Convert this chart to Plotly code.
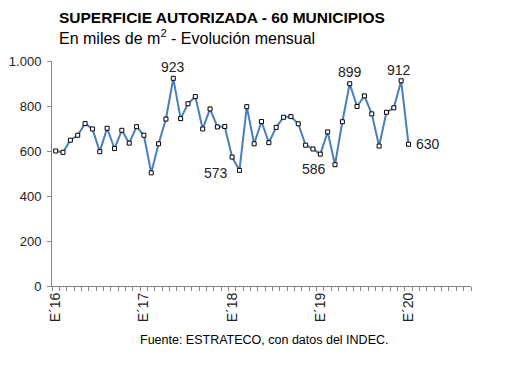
import plotly.graph_objects as go

# Monthly data: Jan 2016 .. Jan 2020 (thousand m2), axis extends to Sep 2020
months = [f"{m}/{y}" for y in range(2016, 2021) for m in range(1, 13)][:57]
values = [600, 594, 648, 670, 722, 698, 597, 701, 611, 692, 635, 708,
          670, 503, 632, 742, 923, 744, 810, 842, 698, 787, 707, 709,
          573, 514, 797, 632, 731, 637, 705, 750, 753, 721, 626, 609,
          586, 685, 539, 730, 899, 798, 845, 765, 622, 772, 792, 912,
          630]
tick_idx = [0, 12, 24, 36, 48]
tick_text = ["E´16", "E´17", "E´18", "E´19", "E´20"]
y_ticks = [0, 200, 400, 600, 800, 1000]
y_text = ["0", "200", "400", "600", "800", "1.000"]
# labelled points: (index, text, xshift, yshift, xanchor)
labels = [(16, "923", 0, 11, "center"),
          (24, "573", -16, -16, "center"),
          (36, "586", -6, -15, "center"),
          (40, "899", 0, 12, "center"),
          (47, "912", -2, 11, "center"),
          (48, "630", 5, 0, "left")]

x_idx = list(range(len(values)))
FONT = "Liberation Sans, Arial"

fig = go.Figure()
fig.add_trace(go.Scatter(
    x=x_idx, y=values, mode="lines+markers",
    line=dict(color="#4A7EBB", width=2),
    marker=dict(symbol="square", size=4, color="white",
                line=dict(color="black", width=1)),
    hoverinfo="skip"))

for i, t, dx, dy, xa in labels:
    fig.add_annotation(x=x_idx[i], y=values[i], text=t, showarrow=False,
                       xshift=dx, yshift=dy, xanchor=xa, yanchor="middle",
                       font=dict(family=FONT, size=14, color="#222"))

fig.add_annotation(xref="paper", yref="paper", x=(57-52)/419, y=(286-17)/225,
                   text="<b>SUPERFICIE AUTORIZADA - 60 MUNICIPIOS</b>", showarrow=False,
                   xanchor="left", yanchor="middle",
                   font=dict(family=FONT, size=15.5, color="black"))
fig.add_annotation(xref="paper", yref="paper", x=(57-52)/419, y=(286-37)/225,
                   text="En miles de m<sup>2</sup> - Evolución mensual", showarrow=False,
                   xanchor="left", yanchor="middle",
                   font=dict(family=FONT, size=16, color="black"))
fig.add_annotation(xref="paper", yref="paper", x=(264-52)/419, y=(286-340)/225,
                   text="Fuente: ESTRATECO, con datos del INDEC.", showarrow=False,
                   xanchor="center", yanchor="middle",
                   font=dict(family=FONT, size=12.5, color="black"))

fig.update_layout(
    width=530, height=382,
    margin=dict(l=44, r=67, t=53, b=104),
    paper_bgcolor="white", plot_bgcolor="white",
    showlegend=False,
    xaxis=dict(range=[-0.5, len(months) - 0.5], tickmode="array",
               tickvals=tick_idx, ticktext=tick_text, tickangle=-90,
               ticks="", showgrid=False, zeroline=False, automargin=False,
               showline=True, linecolor="#868686", linewidth=1,
               tickfont=dict(family=FONT, size=14, color="#222"),
               minor=dict(ticks="outside", ticklen=4, tick0=-0.5, dtick=1,
                          tickcolor="#868686", showgrid=False)),
    yaxis=dict(range=[0, 1000], tickmode="array", tickvals=y_ticks, ticktext=y_text,
               ticks="outside", ticklen=4, tickcolor="#868686",
               showgrid=False, zeroline=False, automargin=False,
               ticklabelstandoff=3,
               showline=True, linecolor="#868686", linewidth=1,
               tickfont=dict(family=FONT, size=13, color="#222")),
)

fig.write_html("out.html")
